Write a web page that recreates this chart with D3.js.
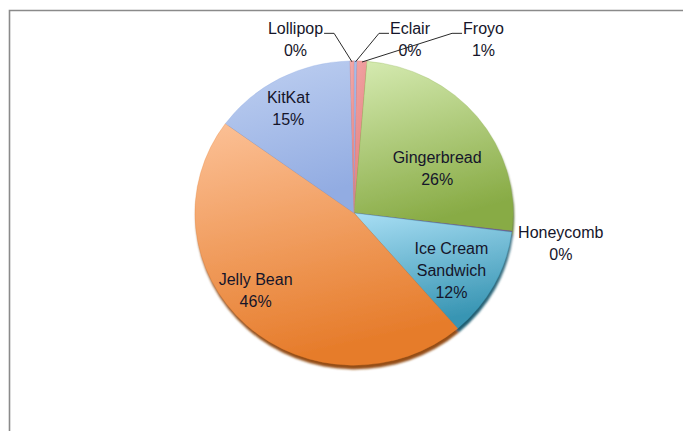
<!DOCTYPE html>
<html><head><meta charset="utf-8">
<script src="https://cdn.jsdelivr.net/npm/d3@7"></script>
<style>html,body{margin:0;padding:0;background:#fff;}svg{display:block;}</style>
</head><body><div id="chart"></div>
<script>
// ---- data ----
const categories = ["Eclair","Froyo","Gingerbread","Honeycomb","Ice Cream Sandwich","Jelly Bean","KitKat","Lollipop"];
const values     = [0.3, 1.0, 25.6, 0.1, 11.7, 46.3, 14.6, 0.4];
const labelLines = [["Eclair"],["Froyo"],["Gingerbread"],["Honeycomb"],["Ice Cream","Sandwich"],["Jelly Bean"],["KitKat"],["Lollipop"]];
const colorTop    = ["#a9c1ec","#f2a4a4","#d6ebb2","#8a70ab","#a8def4","#fcc197","#bfd0f1","#f3abab"];
const colorBottom = ["#8aa7df","#e27f7f","#88ab45","#765a98","#3895b3","#e67c2b","#92ace2","#e08787"];

// ---- layout ----
const W = 683, H = 431;
const cx = 354, cy = 213, R = 159, yScale = 0.957;
// inside label placement: radius fraction & angle nudge (deg); null = outside label
const inLabel = [null, null, {k:0.60,da:9.9}, null, {k:0.72,da:3.4}, {k:0.80,da:8.0}, {k:0.80,da:-3.4}, null];

const svg = d3.select("#chart").append("svg").attr("width", W).attr("height", H);
const defs = svg.append("defs");

// chart frame
svg.append("path").attr("d", `M9.5,${H} L9.5,10.5 L${W},10.5`)
  .attr("fill","none").attr("stroke","#8a8a8a").attr("stroke-width",1.6);

// gradients
categories.forEach((c,i)=>{
  const g = defs.append("linearGradient").attr("id","g"+i)
    .attr("x1",0).attr("y1",0).attr("x2",0.25).attr("y2",1);
  g.append("stop").attr("offset","0%").attr("stop-color",colorTop[i]);
  g.append("stop").attr("offset","100%").attr("stop-color",colorBottom[i]);
});
// shadow filter
const f = defs.append("filter").attr("id","sh").attr("x","-10%").attr("y","-10%").attr("width","120%").attr("height","125%");
f.append("feOffset").attr("in","SourceGraphic").attr("dx",1).attr("dy",4).attr("result","o");
f.append("feComponentTransfer").attr("in","o").attr("result","d")
  .call(s=>{["feFuncR","feFuncG","feFuncB"].forEach(t=>s.append(t).attr("type","linear").attr("slope",0.38));});
f.append("feGaussianBlur").attr("in","d").attr("stdDeviation",1.3).attr("result","b");
const m = f.append("feMerge");
m.append("feMergeNode").attr("in","b");
m.append("feMergeNode").attr("in","SourceGraphic");

const total = d3.sum(values);
const pie = d3.pie().sort(null).value(d=>d)(values);
const arc = d3.arc().innerRadius(0).outerRadius(R);

const pg = svg.append("g").attr("transform",`translate(${cx},${cy}) scale(1,${yScale})`).attr("filter","url(#sh)");
pg.selectAll("path").data(pie).join("path")
  .attr("d",arc).attr("fill",(d,i)=>`url(#g${i})`)
  .attr("stroke",(d,i)=>colorBottom[i]).attr("stroke-width",0.3);

const fmt = d3.format(".0%");
const font = "Liberation Sans, Arial, sans-serif";
const fs = 16, lh = 22;
const txt = svg.append("g").attr("font-family",font).attr("font-size",fs).attr("fill","#15152a").attr("text-anchor","middle");

function polar(angle, r){ return [cx + r*Math.sin(angle), cy - r*Math.cos(angle)*yScale]; }

function block(x, ycenter, lines){
  const n = lines.length;
  lines.forEach((t,j)=>{
    txt.append("text").attr("x",x).attr("y",ycenter + (j-(n-1)/2)*lh + 5.5).text(t);
  });
}

pie.forEach((d,i)=>{
  const pct = fmt(values[i]/total);
  const lines = labelLines[i].concat([pct]);
  const mid = (d.startAngle+d.endAngle)/2;
  if (inLabel[i]) {
    const p = polar(mid + inLabel[i].da*Math.PI/180, R*inLabel[i].k);
    block(p[0], p[1], lines);
  }
});

// outside labels for tiny slices
const outside = {0:{dx:56, side:-1}, 1:{dx:129.5, side:-1}, 7:{dx:-58.5, side:1}};
const rowY = cy - R*yScale - 21.5;
Object.keys(outside).forEach(k=>{
  const i = +k, d = pie[i], o = outside[k];
  const mid = (d.startAngle+d.endAngle)/2;
  const edge = polar(mid, R);
  const lines = labelLines[i].concat([fmt(values[i]/total)]);
  const x = cx + o.dx;
  block(x, rowY, lines);
  const tmp = txt.append("text").attr("x",x).attr("y",rowY).text(labelLines[i][0]).attr("opacity",0);
  const bw = tmp.node().getComputedTextLength(); tmp.remove();
  const ly = rowY - lh/2 + 5;
  const tEdge = o.side<0 ? x - bw/2 - 1 : x + bw/2 + 1;
  const elbow = tEdge + o.side*10;
  svg.append("path").attr("d",`M${tEdge},${ly} L${elbow},${ly} L${edge[0]},${edge[1]+1}`)
    .attr("fill","none").attr("stroke","#2a2a2a").attr("stroke-width",1);
});
// Honeycomb label (right, no leader)
{
  const i = 3, d = pie[i];
  const mid = (d.startAngle+d.endAngle)/2;
  const e = polar(mid, R);
  block(e[0] + 49, e[1] + 12, labelLines[i].concat([fmt(values[i]/total)]));
}
</script></body></html>
